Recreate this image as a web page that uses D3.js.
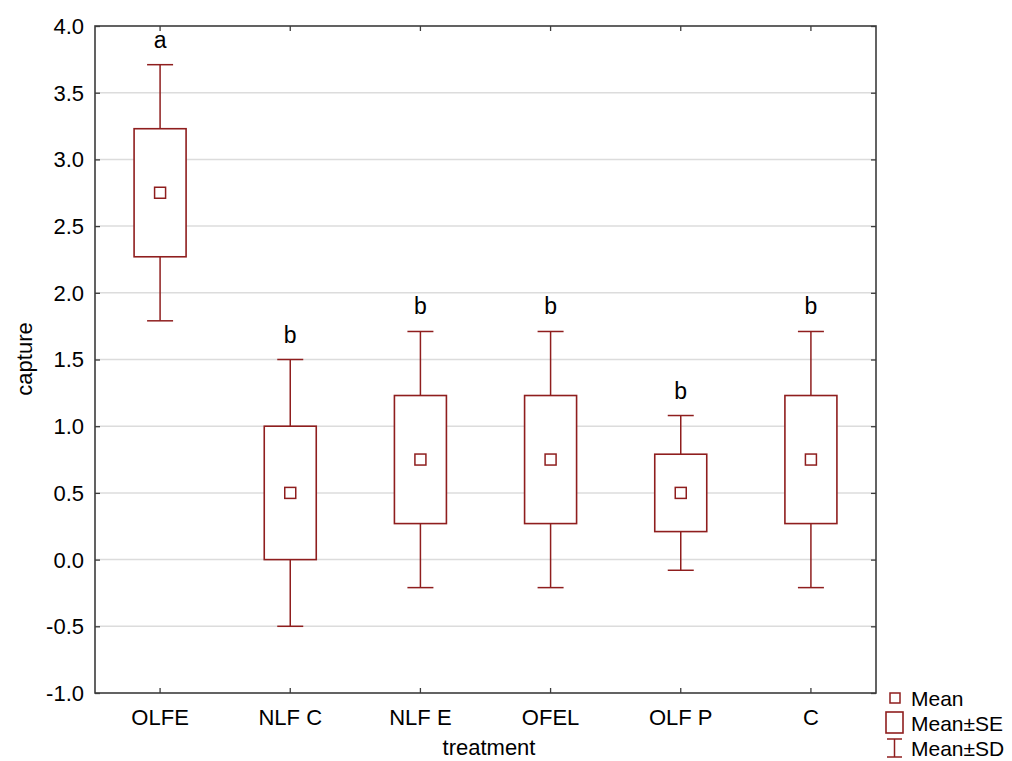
<!DOCTYPE html>
<html><head><meta charset="utf-8">
<script src="https://cdn.jsdelivr.net/npm/d3@7"></script>
<style>body{margin:0;background:#fff}svg{display:block}text{font-family:"Liberation Sans",Arial,sans-serif;fill:#000}</style>
</head><body>
<script>
const categories = ["OLFE","NLF C","NLF E","OFEL","OLF P","C"];
const means   = [2.75, 0.50, 0.75, 0.75, 0.50, 0.75];
const seLow   = [2.27, 0.00, 0.27, 0.27, 0.21, 0.27];
const seHigh  = [3.23, 1.00, 1.23, 1.23, 0.79, 1.23];
const sdLow   = [1.79, -0.50, -0.21, -0.21, -0.08, -0.21];
const sdHigh  = [3.71, 1.50, 1.71, 1.71, 1.08, 1.71];
const letters = ["a","b","b","b","b","b"];
const yTicks  = [-1.0,-0.5,0.0,0.5,1.0,1.5,2.0,2.5,3.0,3.5,4.0];
const legendLabels = ["Mean","Mean\u00b1SE","Mean\u00b1SD"];

const W=1012,H=761;
const L=95,R=876,T=26,B=693;
const col="#8f1e1e";
const svg=d3.select("body").append("svg").attr("width",W).attr("height",H);
const x=d3.scaleBand().domain(categories).range([L,R]);
const y=d3.scaleLinear().domain([-1,4]).range([B,T]);

// gridlines
svg.append("g").selectAll("line").data(yTicks.filter(v=>v>-1&&v<4)).join("line")
 .attr("x1",L).attr("x2",R).attr("y1",d=>y(d)).attr("y2",d=>y(d))
 .attr("stroke","#dcdcdc").attr("stroke-width",1.5);

// axes
const fmt=d=>d3.format(".1f")(d).replace("\u2212","-");
const ax=(g)=>g.call(s=>s.select(".domain").remove()).call(s=>s.selectAll("line").attr("stroke","#3c3c3c").attr("stroke-width",1.3));
svg.append("g").attr("transform",`translate(${L},0)`).call(d3.axisRight(y).tickValues(yTicks).tickFormat("").tickSize(5)).call(ax);
svg.append("g").attr("transform",`translate(${R},0)`).call(d3.axisLeft(y).tickValues(yTicks).tickFormat("").tickSize(5)).call(ax);
svg.append("g").attr("transform",`translate(0,${B})`).call(d3.axisTop(x).tickFormat("").tickSize(5)).call(ax);
svg.append("g").attr("transform",`translate(0,${T})`).call(d3.axisBottom(x).tickFormat("").tickSize(5)).call(ax);
svg.append("rect").attr("x",L).attr("y",T).attr("width",R-L).attr("height",B-T)
 .attr("fill","none").attr("stroke","#3c3c3c").attr("stroke-width",1.6);

// tick labels
svg.append("g").selectAll("text").data(yTicks).join("text")
 .attr("x",84).attr("y",d=>y(d)).attr("dy","0.36em").attr("text-anchor","end")
 .attr("font-size",22).text(d=>fmt(d));
svg.append("g").selectAll("text").data(categories).join("text")
 .attr("x",d=>x(d)+x.bandwidth()/2).attr("y",725).attr("text-anchor","middle")
 .attr("font-size",22).text(d=>d);

// axis titles
svg.append("text").attr("transform","translate(32,359) rotate(-90)").attr("text-anchor","middle").attr("font-size",22).text("capture");
svg.append("text").attr("x",489).attr("y",755).attr("text-anchor","middle").attr("font-size",22).text("treatment");

// boxes
const bw=52,cw=26,mw=11;
const g=svg.append("g").selectAll("g").data(categories).join("g")
 .attr("transform",d=>`translate(${x(d)+x.bandwidth()/2},0)`);
g.append("line").attr("y1",(d,i)=>y(sdHigh[i])).attr("y2",(d,i)=>y(seHigh[i])).attr("stroke",col).attr("stroke-width",1.5);
g.append("line").attr("y1",(d,i)=>y(seLow[i])).attr("y2",(d,i)=>y(sdLow[i])).attr("stroke",col).attr("stroke-width",1.5);
g.append("line").attr("x1",-cw/2).attr("x2",cw/2).attr("y1",(d,i)=>y(sdHigh[i])).attr("y2",(d,i)=>y(sdHigh[i])).attr("stroke",col).attr("stroke-width",1.5);
g.append("line").attr("x1",-cw/2).attr("x2",cw/2).attr("y1",(d,i)=>y(sdLow[i])).attr("y2",(d,i)=>y(sdLow[i])).attr("stroke",col).attr("stroke-width",1.5);
g.append("rect").attr("x",-bw/2).attr("width",bw).attr("y",(d,i)=>y(seHigh[i])).attr("height",(d,i)=>y(seLow[i])-y(seHigh[i]))
 .attr("fill","#fff").attr("stroke",col).attr("stroke-width",1.6);
g.append("rect").attr("x",-mw/2).attr("width",mw).attr("y",(d,i)=>y(means[i])-mw/2).attr("height",mw)
 .attr("fill","#fff").attr("stroke",col).attr("stroke-width",1.5);
g.append("text").attr("y",(d,i)=>y(sdHigh[i])-17).attr("text-anchor","middle").attr("font-size",23).text((d,i)=>letters[i]);

// legend
const lg=svg.append("g");
lg.append("rect").attr("x",890).attr("y",693).attr("width",10).attr("height",10).attr("fill","#fff").attr("stroke",col).attr("stroke-width",1.5);
lg.append("rect").attr("x",886).attr("y",712).attr("width",17).attr("height",21).attr("fill","#fff").attr("stroke",col).attr("stroke-width",1.6);
lg.append("line").attr("x1",894.5).attr("x2",894.5).attr("y1",739).attr("y2",757).attr("stroke",col).attr("stroke-width",1.5);
lg.append("line").attr("x1",887).attr("x2",902).attr("y1",739).attr("y2",739).attr("stroke",col).attr("stroke-width",1.5);
lg.append("line").attr("x1",887).attr("x2",902).attr("y1",757).attr("y2",757).attr("stroke",col).attr("stroke-width",1.5);
lg.selectAll("text").data(legendLabels).join("text").attr("x",911).attr("y",(d,i)=>706+i*25)
 .attr("font-size",21).text(d=>d);
</script>
</body></html>
